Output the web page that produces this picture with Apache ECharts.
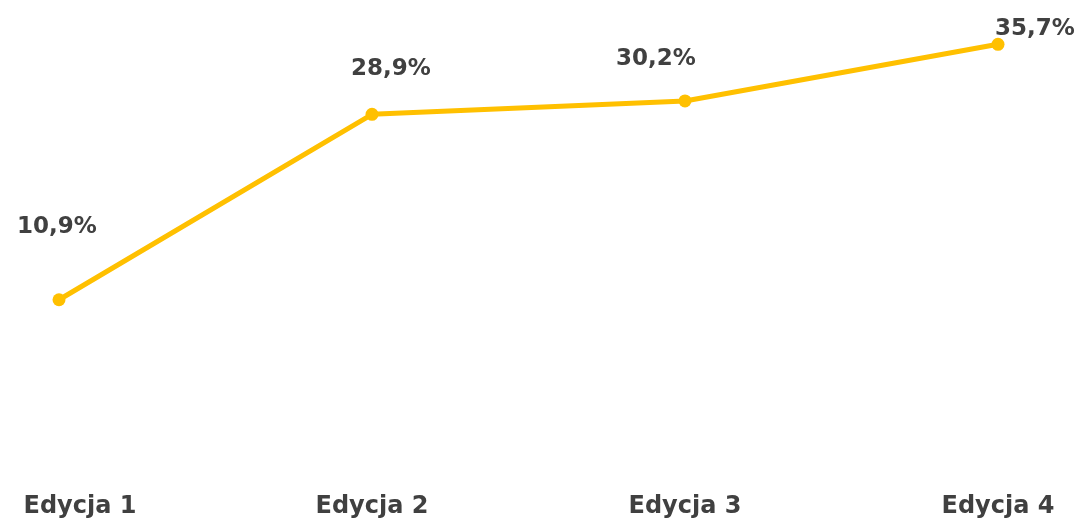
<!DOCTYPE html>
<html>
<head>
<meta charset="utf-8">
<script src="https://cdn.jsdelivr.net/npm/echarts@6/dist/echarts.min.js"></script>
<style>
  html, body { margin: 0; padding: 0; background: #ffffff; }
  #chart { width: 1079px; height: 522px; }
</style>
</head>
<body>
<div id="chart"></div>
<script>
// Edition names and share per edition (%)
const categories = ['Edycja 1', 'Edycja 2', 'Edycja 3', 'Edycja 4'];
const shareValues = [10.9, 28.9, 30.2, 35.7];

// Hand-placed label nudges, relative to each point [dx, dy]
const labelNudges = [[-2, -73], [19, -45], [-29, -42], [37, -15]];

const textColor = '#404040';
const fontFamily = '"DejaVu Sans", sans-serif';

const chart = echarts.init(document.getElementById('chart'));

chart.setOption({
  animation: false,
  backgroundColor: '#ffffff',
  grid: {
    left: 59, right: 81, top: 0, bottom: 110,
    containLabel: false,
    outerBoundsMode: 'none'
  },
  xAxis: {
    type: 'category',
    boundaryGap: false,
    data: categories.map((name, i) => i === 0
      ? { value: name, textStyle: { padding: [0, 0, 0, 42] } }
      : name),
    axisLine: { show: false },
    axisTick: { show: false },
    splitLine: { show: false },
    axisLabel: {
      margin: 83,
      color: textColor,
      fontFamily: fontFamily,
      fontWeight: 'bold',
      fontSize: 24,
      lineHeight: 24,
      interval: 0
    }
  },
  yAxis: {
    type: 'value',
    min: 0,
    max: 40,
    show: false,
    splitLine: { show: false }
  },
  series: [{
    type: 'line',
    data: shareValues.map((v, i) => ({
      value: v,
      label: { offset: labelNudges[i] }
    })),
    symbol: 'circle',
    symbolSize: 13,
    lineStyle: { color: '#FFC000', width: 5 },
    itemStyle: { color: '#FFC000' },
    label: {
      show: true,
      position: 'inside',
      color: textColor,
      fontFamily: fontFamily,
      fontWeight: 'bold',
      fontSize: 23,
      formatter: p => p.value.toFixed(1).replace('.', ',') + '%'
    }
  }]
});
</script>
</body>
</html>
